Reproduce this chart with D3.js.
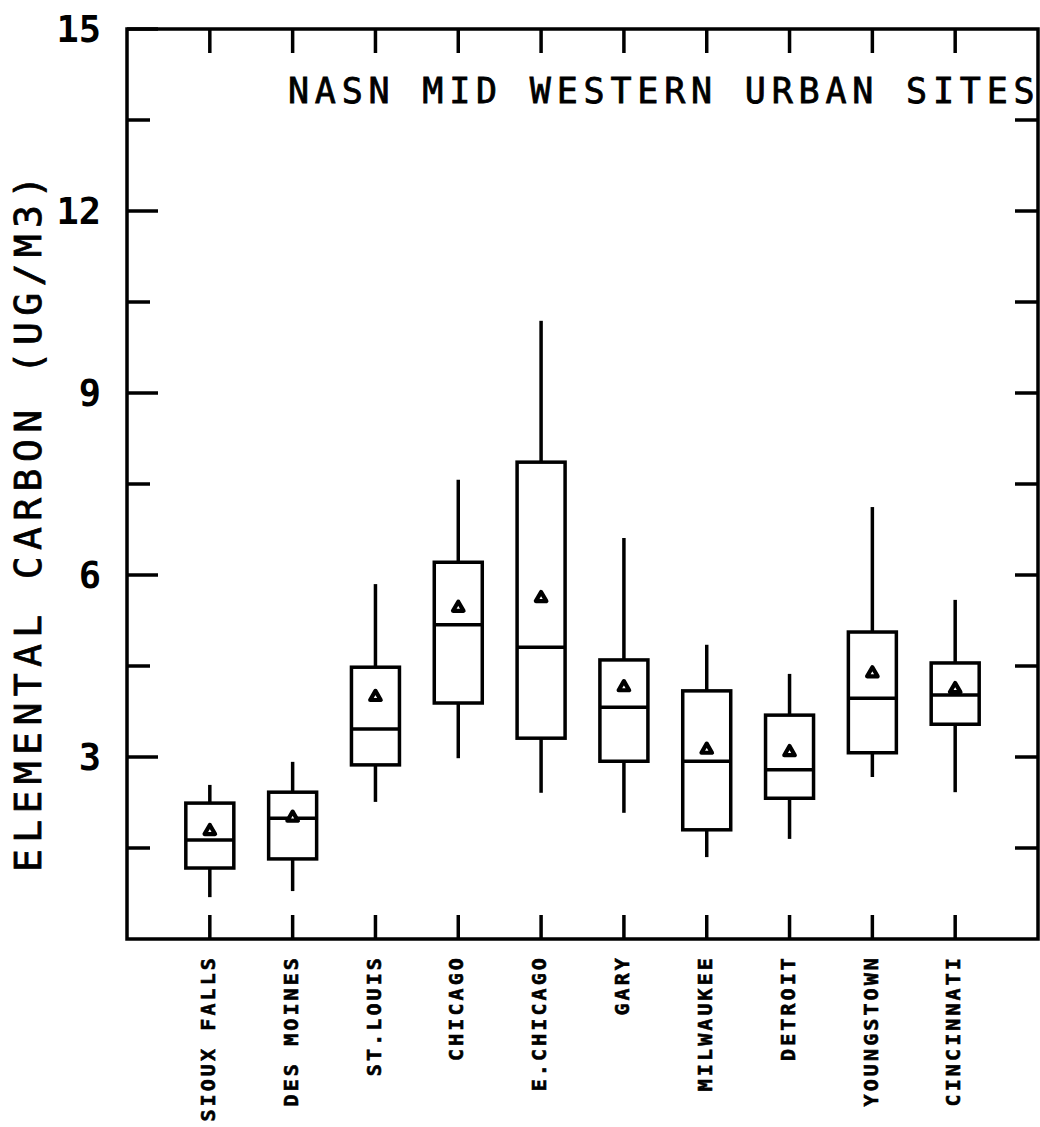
<!DOCTYPE html>
<html>
<head>
<meta charset="utf-8">
<script src="https://cdn.jsdelivr.net/npm/d3@7"></script>
<style>
  html, body { margin: 0; padding: 0; background: #fff; }
  svg { display: block; }
  text { font-family: "DejaVu Sans Mono", monospace; fill: #000; }
</style>
</head>
<body>
<script>
// Elemental carbon at NASN mid-western urban sites (ug/m3)
const sites = ["SIOUX FALLS", "DES MOINES", "ST.LOUIS", "CHICAGO", "E.CHICAGO",
               "GARY", "MILWAUKEE", "DETROIT", "YOUNGSTOWN", "CINCINNATI"];
const whiskerLow  = [0.69, 0.79, 2.26, 2.98, 2.41, 2.08, 1.35, 1.65, 2.67, 2.42];
const quartile1   = [1.17, 1.32, 2.87, 3.89, 3.31, 2.93, 1.80, 2.32, 3.07, 3.54];
const medians     = [1.63, 1.99, 3.46, 5.18, 4.81, 3.82, 2.93, 2.79, 3.97, 4.02];
const quartile3   = [2.24, 2.42, 4.48, 6.21, 7.86, 4.60, 4.09, 3.69, 5.06, 4.55];
const whiskerHigh = [2.54, 2.92, 5.85, 7.57, 10.19, 6.61, 4.85, 4.37, 7.12, 5.59];
const means       = [1.78, 2.00, 3.99, 5.46, 5.62, 4.15, 3.12, 3.08, 4.38, 4.12];

const majorTicks = [3, 6, 9, 12, 15];
const minorTicks = [1.5, 4.5, 7.5, 10.5, 13.5];

const W = 1040, H = 1127;
const frame = { left: 127, right: 1038, top: 29, bottom: 939 };

const svg = d3.select("body").append("svg")
  .attr("width", W).attr("height", H);

const x = d3.scaleLinear().domain([0, sites.length + 1]).range([frame.left, frame.right]);
const y = d3.scaleLinear().domain([0, 15]).range([frame.bottom, frame.top]);

const ink = "#000";
const sw = 3.5;

// plot frame
svg.append("rect")
  .attr("x", frame.left).attr("y", frame.top)
  .attr("width", frame.right - frame.left).attr("height", frame.bottom - frame.top)
  .attr("fill", "none").attr("stroke", ink).attr("stroke-width", sw);

// left axis: long ticks at labelled values, shorter in between
const leftAxis = svg.append("g");
leftAxis.selectAll("line.major").data(majorTicks).join("line")
  .attr("x1", frame.left).attr("x2", frame.left + 31)
  .attr("y1", d => y(d)).attr("y2", d => y(d))
  .attr("stroke", ink).attr("stroke-width", sw);
leftAxis.selectAll("line.minor").data(minorTicks).join("line")
  .attr("x1", frame.left).attr("x2", frame.left + 23)
  .attr("y1", d => y(d)).attr("y2", d => y(d))
  .attr("stroke", ink).attr("stroke-width", sw);
leftAxis.selectAll("text").data(majorTicks).join("text")
  .attr("x", 101).attr("y", d => y(d))
  .attr("dy", "0.36em")
  .attr("text-anchor", "end")
  .attr("font-size", 37).attr("font-weight", "bold")
  .text(d => d);

// right axis ticks
svg.append("g").selectAll("line").data(majorTicks.concat(minorTicks).filter(d => d < 15)).join("line")
  .attr("x1", frame.right - 23).attr("x2", frame.right)
  .attr("y1", d => y(d)).attr("y2", d => y(d))
  .attr("stroke", ink).attr("stroke-width", sw);

// site ticks top and bottom
const siteIdx = sites.map((s, i) => i + 1);
svg.append("g").selectAll("line").data(siteIdx).join("line")
  .attr("x1", d => x(d)).attr("x2", d => x(d))
  .attr("y1", frame.top).attr("y2", frame.top + 24)
  .attr("stroke", ink).attr("stroke-width", sw);
svg.append("g").selectAll("line").data(siteIdx).join("line")
  .attr("x1", d => x(d)).attr("x2", d => x(d))
  .attr("y1", frame.bottom - 24).attr("y2", frame.bottom)
  .attr("stroke", ink).attr("stroke-width", sw);

// site labels, reading upward
svg.append("g").selectAll("text").data(sites).join("text")
  .attr("transform", (d, i) => `translate(${x(i + 1) - 2},955) rotate(-90)`)
  .attr("text-anchor", "end")
  .attr("dy", "0.36em")
  .attr("font-size", 20).attr("font-weight", "bold")
  .attr("letter-spacing", 3.1)
  .attr("stroke", ink).attr("stroke-width", 0.6)
  .text(d => d);

// box plots
const boxW = 48;
const boxes = svg.append("g").selectAll("g").data(sites).join("g");
boxes.append("line")
  .attr("x1", (d, i) => x(i + 1)).attr("x2", (d, i) => x(i + 1))
  .attr("y1", (d, i) => y(whiskerHigh[i])).attr("y2", (d, i) => y(quartile3[i]))
  .attr("stroke", ink).attr("stroke-width", sw);
boxes.append("line")
  .attr("x1", (d, i) => x(i + 1)).attr("x2", (d, i) => x(i + 1))
  .attr("y1", (d, i) => y(quartile1[i])).attr("y2", (d, i) => y(whiskerLow[i]))
  .attr("stroke", ink).attr("stroke-width", sw);
boxes.append("rect")
  .attr("x", (d, i) => x(i + 1) - boxW / 2).attr("width", boxW)
  .attr("y", (d, i) => y(quartile3[i]))
  .attr("height", (d, i) => y(quartile1[i]) - y(quartile3[i]))
  .attr("fill", "none").attr("stroke", ink).attr("stroke-width", sw);
boxes.append("line")
  .attr("x1", (d, i) => x(i + 1) - boxW / 2).attr("x2", (d, i) => x(i + 1) + boxW / 2)
  .attr("y1", (d, i) => y(medians[i])).attr("y2", (d, i) => y(medians[i]))
  .attr("stroke", ink).attr("stroke-width", sw);

// mean markers
const tri = d3.symbol().type(d3.symbolTriangle).size(48);
boxes.append("path")
  .attr("d", tri)
  .attr("transform", (d, i) => `translate(${x(i + 1)},${y(means[i])})`)
  .attr("fill", "#fff").attr("stroke", ink).attr("stroke-width", 4.2)
  .attr("stroke-linejoin", "round");

// title inside the frame
svg.append("text")
  .attr("x", 288).attr("y", 103)
  .attr("font-size", 35)
  .attr("letter-spacing", 5.8)
  .attr("stroke", ink).attr("stroke-width", 0.8)
  .text("NASN MID WESTERN URBAN SITES");

// y-axis title
svg.append("text")
  .attr("transform", "translate(41,872) rotate(-90)")
  .attr("font-size", 38)
  .attr("letter-spacing", 6.4)
  .attr("stroke", ink).attr("stroke-width", 0.8)
  .text("ELEMENTAL CARBON (UG/M3)");
</script>
</body>
</html>
